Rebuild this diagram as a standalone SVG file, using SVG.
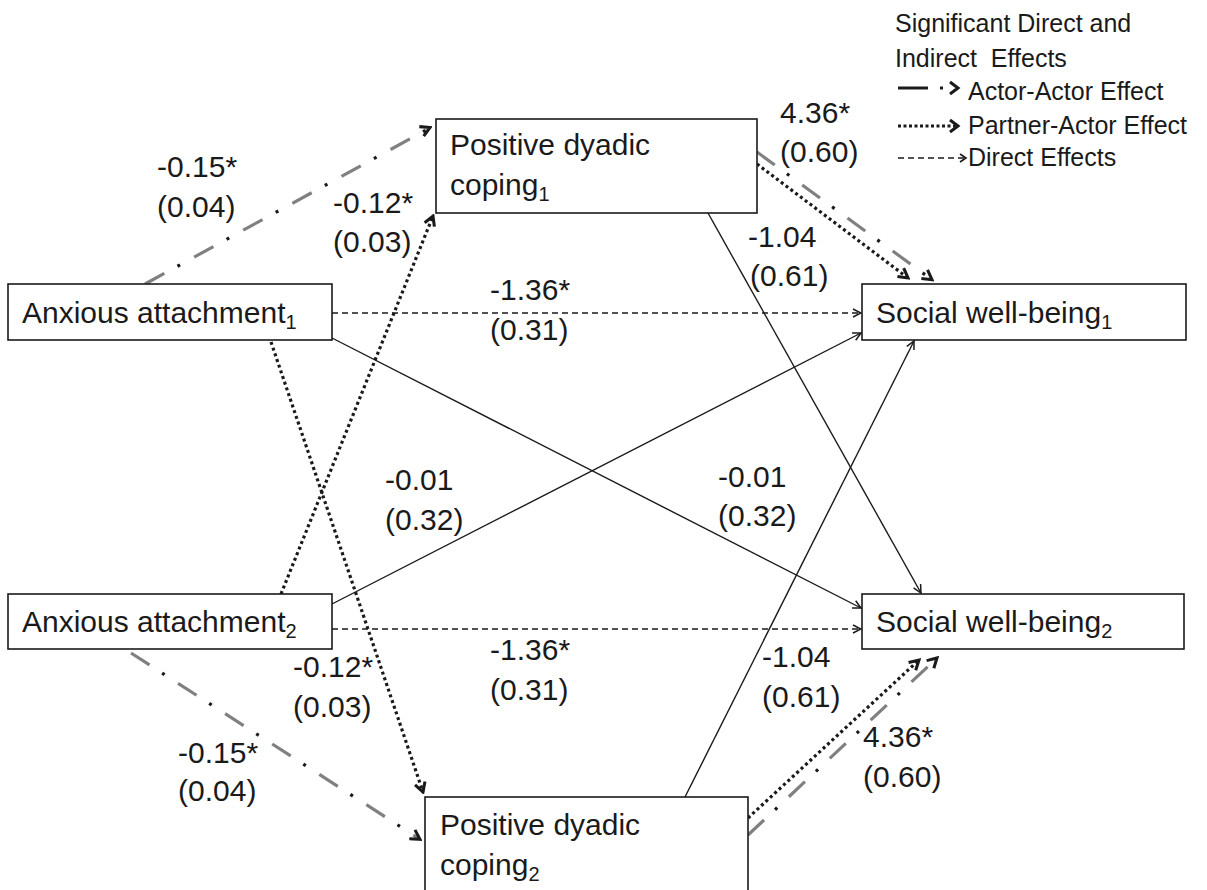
<svg xmlns="http://www.w3.org/2000/svg" width="1207" height="890" viewBox="0 0 1207 890">
  <style>
    .box { fill: #ffffff; stroke: #1a1a1a; stroke-width: 1.6; }
    .lbl { font-family: "Liberation Sans", Arial, sans-serif; font-size: 30px; fill: #1a1a1a; }
    .leg { font-family: "Liberation Sans", Arial, sans-serif; font-size: 25px; fill: #1a1a1a; }
    .sub { font-size: 20px; }
    .solid { fill: none; stroke: #1a1a1a; stroke-width: 1.4; }
    .direct { fill: none; stroke: #1a1a1a; stroke-width: 1.4; stroke-dasharray: 6 4; }
    .dotted { fill: none; stroke: #1a1a1a; stroke-width: 3.2; stroke-dasharray: 3 3; }
    .dashpart { fill: none; stroke: #808080; stroke-width: 3.2; stroke-dasharray: 22 34; }
    .dotpart { fill: none; stroke: #1a1a1a; stroke-width: 3.2; stroke-dasharray: 3 53; stroke-dashoffset: -37; }
  </style>
  <defs>
    <marker id="thin" viewBox="0 0 10 10" refX="9" refY="5" markerWidth="10" markerHeight="10" markerUnits="userSpaceOnUse" orient="auto">
      <path d="M1,1 L9,5 L1,9" fill="none" stroke="#1a1a1a" stroke-width="1.5"/>
    </marker>
    <marker id="bold" viewBox="0 0 12 12" refX="10" refY="6" markerWidth="14" markerHeight="14" markerUnits="userSpaceOnUse" orient="auto">
      <path d="M2,1.5 L10,6 L2,10.5" fill="none" stroke="#1a1a1a" stroke-width="2.6"/>
    </marker>
  </defs>

  <rect width="1207" height="890" fill="#ffffff"/>

  <!-- connectors -->
  <g id="connectors">
    <!-- direct effects -->
    <line class="direct" x1="332" y1="313" x2="861" y2="313" marker-end="url(#thin)"/>
    <line class="direct" x1="332" y1="629" x2="861" y2="629" marker-end="url(#thin)"/>
    <!-- cross effects -->
    <line class="solid" x1="332" y1="338" x2="861" y2="608" marker-end="url(#thin)"/>
    <line class="solid" x1="332" y1="604" x2="861" y2="333" marker-end="url(#thin)"/>
    <line class="solid" x1="708" y1="213" x2="921" y2="593" marker-end="url(#thin)"/>
    <line class="solid" x1="685" y1="797" x2="914" y2="341" marker-end="url(#thin)"/>
    <!-- partner-actor effects -->
    <line class="dotted" x1="281" y1="594" x2="433" y2="216" marker-end="url(#bold)"/>
    <line class="dotted" x1="271" y1="342" x2="423" y2="792" marker-end="url(#bold)"/>
    <line class="dotted" x1="757" y1="164" x2="908" y2="278" marker-end="url(#bold)"/>
    <line class="dotted" x1="748" y1="818" x2="919" y2="660" marker-end="url(#bold)"/>
    <!-- actor-actor effects: grey dashes with black dots -->
    <g>
      <line class="dashpart" x1="145" y1="284" x2="428" y2="129"/>
      <line class="dotpart" x1="145" y1="284" x2="428" y2="129"/>
      <line x1="418" y1="133" x2="430" y2="127.5" stroke="#1a1a1a" stroke-width="0.1" marker-end="url(#bold)"/>
    </g>
    <g>
      <line class="dashpart" x1="131" y1="653" x2="418" y2="838"/>
      <line class="dotpart" x1="131" y1="653" x2="418" y2="838"/>
      <line x1="408" y1="831.6" x2="420" y2="839.3" stroke="#1a1a1a" stroke-width="0.1" marker-end="url(#bold)"/>
    </g>
    <g>
      <line class="dashpart" x1="757" y1="152" x2="931" y2="279"/>
      <line class="dotpart" x1="757" y1="152" x2="931" y2="279"/>
      <line x1="921" y1="271.7" x2="932" y2="279.7" stroke="#1a1a1a" stroke-width="0.1" marker-end="url(#bold)"/>
    </g>
    <g>
      <line class="dashpart" x1="748" y1="835" x2="936" y2="659"/>
      <line class="dotpart" x1="748" y1="835" x2="936" y2="659"/>
      <line x1="926" y1="668.4" x2="937" y2="658" stroke="#1a1a1a" stroke-width="0.1" marker-end="url(#bold)"/>
    </g>
  </g>

  <!-- nodes -->
  <g id="anxious1">
    <rect class="box" x="8" y="284" width="324" height="56"/>
    <text class="lbl" x="22" y="323">Anxious attachment<tspan class="sub" dy="6">1</tspan></text>
  </g>
  <g id="anxious2">
    <rect class="box" x="8" y="594" width="324" height="55"/>
    <text class="lbl" x="22" y="632">Anxious attachment<tspan class="sub" dy="6">2</tspan></text>
  </g>
  <g id="coping1">
    <rect class="box" x="436" y="119" width="321" height="94"/>
    <text class="lbl" x="450" y="155">Positive dyadic</text>
    <text class="lbl" x="450" y="195">coping<tspan class="sub" dy="6">1</tspan></text>
  </g>
  <g id="coping2">
    <rect class="box" x="425" y="797" width="323" height="100"/>
    <text class="lbl" x="440" y="835">Positive dyadic</text>
    <text class="lbl" x="440" y="875">coping<tspan class="sub" dy="6">2</tspan></text>
  </g>
  <g id="wellbeing1">
    <rect class="box" x="862" y="284" width="324" height="56"/>
    <text class="lbl" x="876" y="323">Social well-being<tspan class="sub" dy="6">1</tspan></text>
  </g>
  <g id="wellbeing2">
    <rect class="box" x="862" y="594" width="322" height="55"/>
    <text class="lbl" x="876" y="632">Social well-being<tspan class="sub" dy="6">2</tspan></text>
  </g>

  <!-- path coefficients -->
  <g id="coefficients" class="lbl">
    <text x="157" y="177">-0.15*</text>
    <text x="157" y="217">(0.04)</text>
    <text x="333" y="213">-0.12*</text>
    <text x="333" y="252">(0.03)</text>
    <text x="780" y="123">4.36*</text>
    <text x="780" y="162">(0.60)</text>
    <text x="748" y="247">-1.04</text>
    <text x="750" y="286">(0.61)</text>
    <text x="490" y="300">-1.36*</text>
    <text x="490" y="340">(0.31)</text>
    <text x="385" y="490">-0.01</text>
    <text x="385" y="530">(0.32)</text>
    <text x="718" y="487">-0.01</text>
    <text x="718" y="526">(0.32)</text>
    <text x="293" y="677">-0.12*</text>
    <text x="293" y="717">(0.03)</text>
    <text x="490" y="660">-1.36*</text>
    <text x="490" y="700">(0.31)</text>
    <text x="762" y="667">-1.04</text>
    <text x="762" y="707">(0.61)</text>
    <text x="863" y="747">4.36*</text>
    <text x="863" y="787">(0.60)</text>
    <text x="178" y="763">-0.15*</text>
    <text x="178" y="801">(0.04)</text>
  </g>

  <!-- legend -->
  <g id="legend">
    <text class="leg" x="895" y="32">Significant Direct and</text>
    <text class="leg" x="895" y="67">Indirect&#160; Effects</text>
    <line x1="898" y1="88" x2="928" y2="88" stroke="#1a1a1a" stroke-width="3"/>
    <line x1="940" y1="88" x2="943" y2="88" stroke="#1a1a1a" stroke-width="3"/>
    <path d="M950,82 L958,88 L950,94" fill="none" stroke="#1a1a1a" stroke-width="3"/>
    <text class="leg" x="968" y="100">Actor-Actor Effect</text>
    <line x1="898" y1="126" x2="955" y2="126" stroke="#1a1a1a" stroke-width="3" stroke-dasharray="3 2.5"/>
    <path d="M950,120 L958,126 L950,132" fill="none" stroke="#1a1a1a" stroke-width="3"/>
    <text class="leg" x="968" y="134">Partner-Actor Effect</text>
    <line x1="898" y1="158" x2="964" y2="158" stroke="#1a1a1a" stroke-width="1.6" stroke-dasharray="6 4"/>
    <path d="M960,154 L966,158 L960,162" fill="none" stroke="#1a1a1a" stroke-width="1.6"/>
    <text class="leg" x="968" y="166">Direct Effects</text>
  </g>
</svg>
